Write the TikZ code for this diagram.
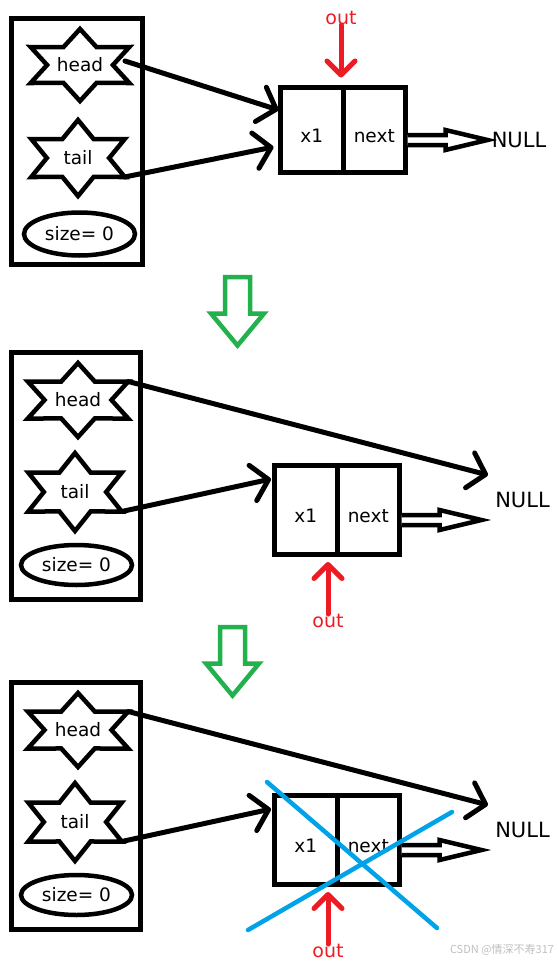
\documentclass[tikz,border=0pt]{standalone}
\usepackage{fontspec}
\setmainfont{DejaVu Sans}
\newfontfamily\cjkfont{Noto Sans CJK SC}
\usetikzlibrary{arrows.meta,calc,positioning,shapes.geometric}

\definecolor{pred}{HTML}{ED1C24}
\definecolor{pgreen}{HTML}{22B14C}
\definecolor{pblue}{HTML}{00A2E8}

\tikzset{
  frame/.style={draw,line width=5pt},
  starline/.style={line width=4.5pt,line join=miter},
  lbl/.style={inner sep=0pt},
  sizebox/.style={ellipse,draw,line width=4.5pt,inner sep=0pt,minimum width=111pt},
  cell/.style={draw,line width=5pt,outer sep=0pt,minimum width=62.5pt,
               text height=24pt,text depth=0pt},
  nullbox/.style={inner sep=0pt,font=\fontsize{21}{24}\selectfont},
  outlbl/.style={text=pred,inner sep=0pt,font=\fontsize{19}{22}\selectfont},
  ptr/.style={line width=5pt,line cap=round,-{Straight Barb[round,length=16pt,width=36pt]}},
  outptr/.style={pred,line width=5pt,line cap=round,-{Straight Barb[round,length=14pt,width=28pt]}},
  hollow/.style={draw,fill=white,line width=4.5pt,line join=miter},
  greenarrow/.style={draw=pgreen,line width=4.5pt,line join=miter},
  cross/.style={pblue,line width=4.5pt,line cap=round},
  wmark/.style={text=black!25,inner sep=0pt,font=\cjkfont\fontsize{11}{12}\selectfont}
}

% six pointed star round a node, corners named <node>ne and <node>se
\newcommand{\hexstar}[3]{%
  \draw[starline,shift={(#1.center)}] (90:#2 and #3)
    \foreach \a in {90,150,...,390}{ -- (\a+30:0.577*#2 and 0.577*#3) -- (\a+60:#2 and #3)} -- cycle;
  \path[shift={(#1.center)}] (-30:#2 and #3) coordinate (#1ne) (30:#2 and #3) coordinate (#1se);}

% open arrow from the next field
\newcommand{\hollowptr}[1]{%
  \draw[hollow] #1 -- ++(38,0) -- ++(0,-5) -- ++(42,10) -- ++(-42,10) -- ++(0,-5) -- ++(-38,0);}

% green step arrow
\newcommand{\downblock}[1]{%
  \draw[greenarrow] (#1) ++(-12.5,0) -- ++(25,0) -- ++(0,36.5) -- ++(14,0)
    -- ++(-26.5,32) -- ++(-26.5,-32) -- ++(14,0) -- cycle;}

\begin{document}
\begin{tikzpicture}[x=1pt,y=-1pt,font=\fontsize{18.5}{22}\selectfont]
  \useasboundingbox (0,0) rectangle (558,961);

  % first state
  \draw[frame] (11,18) rectangle (142,264);
  \node[lbl] (hd1) at (80,65) {head};
  \node[lbl] (tl1) at (78,158) {tail};
  \node[sizebox,minimum height=43pt] (sz1) at (79.5,234) {size= 0};
  \hexstar{hd1}{57}{36}
  \hexstar{tl1}{54}{38}

  \node[cell,minimum height=85pt] (dat1) at (311.75,130) {x1};
  \node[cell,minimum height=85pt,right=0pt of dat1] (nxt1) {next};
  \node[nullbox] (nul1) at (519,140) {NULL};
  \node[outlbl] (out1) at (341,18) {out};

  \hollowptr{($(nxt1.east)+(2,5)$)}
  \draw[ptr] ($(hd1.center)+(45,-4)$) -- ($(dat1.west)+(-2,-20)$);
  \draw[ptr] (tl1se) -- ($(dat1.west)+(-7,17)$);
  \draw[outptr] (out1.south) -- ($(dat1.north east)+(-2,-10)$);

  \coordinate (dn1) at (237.5,277);
  \coordinate (dn2) at (232.5,627);
  \downblock{dn1}
  \downblock{dn2}

  % second and third state
  \foreach \p/\dy in {2/0,3/330}{
    \draw[frame] (11,352.5+\dy) rectangle (140.5,599.5+\dy);
    \node[lbl] (hd\p) at (78,400+\dy) {head};
    \node[lbl] (tl\p) at (75,492+\dy) {tail};
    \node[sizebox,minimum height=40pt] (sz\p) at (76.5,565+\dy) {size= 0};
    \hexstar{hd\p}{58}{37}
    \hexstar{tl\p}{54}{39}

    \node[cell,minimum height=89pt] (dat\p) at (305.75,510+\dy) {x1};
    \node[cell,minimum height=89pt,right=0pt of dat\p] (nxt\p) {next};
    \node[nullbox] (nul\p) at (522.5,499.5+\dy) {NULL};
    \node[outlbl] (out\p) at (328,621+\dy) {out};
    \coordinate (hp\p) at (488,475+\dy);

    \hollowptr{($(nxt\p.east)+(2,5)$)}
    \draw[ptr] (hd\p ne) -- (hp\p);
    \draw[ptr] (tl\p se) -- ($(dat\p.west)+(-3.5,-31)$);
    \draw[outptr] (out\p.north) -- ($(dat\p.south east)+(-9,7.5)$);
  }

  % x1 is freed
  \draw[cross] (267,782) -- (437,928);
  \draw[cross] (248,930) -- (452,812);

  \node[wmark] (csdn) at (502,950) {CSDN @情深不寿317};
\end{tikzpicture}
\end{document}
